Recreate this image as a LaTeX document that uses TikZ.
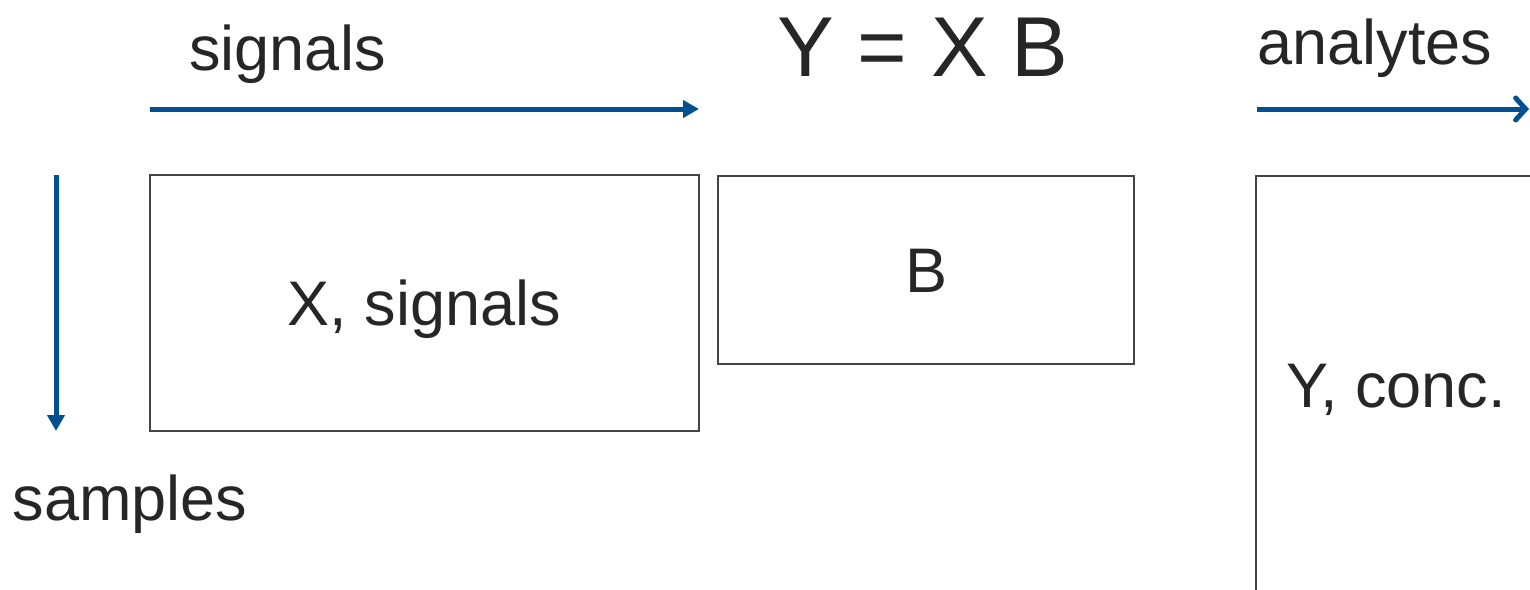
\documentclass[tikz,border=0pt]{standalone}
\usepackage{fontspec}
\setmainfont{Liberation Sans}
\usetikzlibrary{arrows.meta}
\definecolor{axisblue}{RGB}{0,80,145}
\definecolor{txt}{RGB}{38,38,38}
\definecolor{boxline}{RGB}{68,68,68}
\begin{document}
\begin{tikzpicture}[x=1pt,y=1pt,
  axis/.style={draw=axisblue,line width=5pt,-{Triangle[length=16pt,width=17pt]}},
  axisbarb/.style={draw=axisblue,line width=5pt,-{Straight Barb[length=10pt,width=22pt,line cap=round]}},
  lbl/.style={anchor=base,inner sep=0pt,text=txt,font=\fontsize{63}{70}\selectfont},
  eqn/.style={anchor=base,inner sep=0pt,text=txt,font=\fontsize{85}{95}\selectfont},
  matbox/.style={draw=boxline,line width=2.2pt,rectangle,inner sep=0pt,text=txt,
    font=\fontsize{63}{70}\selectfont,text height=45pt,text depth=0pt}]
\useasboundingbox (0,0) rectangle (1530,-589);
\clip (0,0) rectangle (1530,-589);
\fill[white] (0,0) rectangle (1530,-589);

% axis labels
\node[lbl] (tsig) at (287.5,-70) {signals};
\node[eqn] (teq) at (923,-76) {Y = X B};
\node[lbl] (tana) at (1375,-64) {analytes};
\node[lbl] (tsam) at (130,-520) {samples};

% axis arrows
\coordinate (sigS) at (150,-109);
\coordinate (sigE) at (699,-109);
\draw[axis] (sigS) -- (sigE);
\coordinate (anaS) at (1257,-109);
\coordinate (anaE) at (1529,-109);
\draw[axisbarb] (anaS) -- (anaE);
\coordinate (samS) at (56,-175);
\coordinate (samE) at (56,-431);
\draw[axis] (samS) -- (samE);

% matrices
\node[matbox,minimum width=549pt,minimum height=256pt] (X) at (424.5,-303) {X, signals};
\node[matbox,minimum width=416pt,minimum height=188pt] (B) at (926,-270) {B};
\node[matbox,minimum width=280pt,minimum height=418pt] (Y) at (1396,-385) {Y, conc.};
\end{tikzpicture}
\end{document}
